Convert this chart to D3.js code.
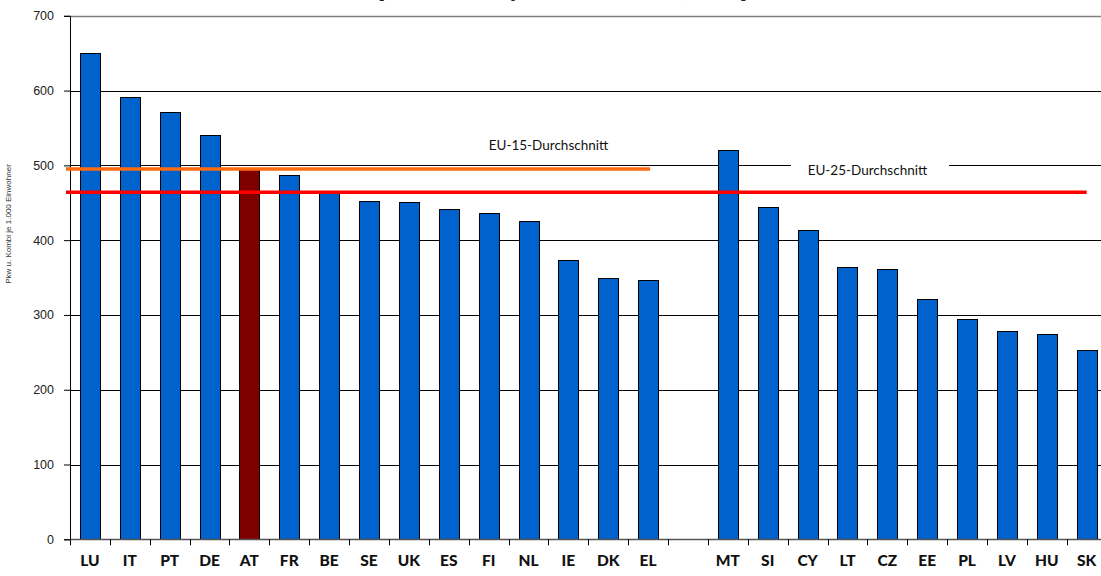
<!DOCTYPE html>
<html>
<head>
<meta charset="utf-8">
<script src="https://cdn.jsdelivr.net/npm/d3@7"></script>
<style>
  body { margin: 0; background: #fff; }
  svg { display: block; }
</style>
</head>
<body>
<script>
// data
var eu15Countries = ["LU","IT","PT","DE","AT","FR","BE","SE","UK","ES","FI","NL","IE","DK","EL"];
var eu15Values    = [650, 592, 572, 540, 495, 487, 464, 453, 451, 441, 436, 425, 374, 350, 347];
var newCountries  = ["MT","SI","CY","LT","CZ","EE","PL","LV","HU","SK"];
var newValues     = [521, 445, 414, 364, 362, 321, 294, 279, 274, 253];
var yTicks = [0, 100, 200, 300, 400, 500, 600, 700];
var eu15Average = 495;
var eu25Average = 464;
var highlight = "AT";

var svgWidth = 1101;
var svgHeight = 576;

var margin = {top: 15.8, left: 70};
var step = 39.87;

// slots: eu15, one empty slot, new members
var slots = eu15Countries.concat(["_gap"]).concat(newCountries);
var bars = eu15Countries.map(function(c, i) { return {name: c, value: eu15Values[i]}; })
  .concat(newCountries.map(function(c, i) { return {name: c, value: newValues[i]}; }));

var svg = d3.select("body")
  .append("svg")
  .attr("width", svgWidth)
  .attr("height", svgHeight);

var x = d3.scaleBand()
  .domain(slots)
  .range([margin.left, margin.left + slots.length * step])
  .paddingInner(0.5)
  .paddingOuter(0.25);

var slotScale = d3.scaleLinear()
  .domain([0, slots.length])
  .range([margin.left, margin.left + slots.length * step]);

var y = d3.scaleLinear()
  .domain([0, 700])
  .range([539.3, margin.top]);

// title, cut off by the top edge in the original (only the bracket feet show)
svg.append("text")
  .attr("x", 378)
  .attr("y", -2)
  .attr("textLength", 369)
  .attr("lengthAdjust", "spacingAndGlyphs")
  .style("font-family", "Lato, 'DejaVu Sans', sans-serif")
  .style("font-weight", "bold")
  .style("font-size", "15px")
  .style("fill", "#222")
  .text("[Pkw u. Kombi je 1.000 Einwohner, 2003]");

// gridlines
svg.append("g")
  .selectAll("line")
  .data(yTicks.filter(function(d) { return d > 0; }))
  .enter().append("line")
  .attr("x1", margin.left)
  .attr("x2", svgWidth)
  .attr("y1", function(d) { return Math.round(y(d)) + 0.5; })
  .attr("y2", function(d) { return Math.round(y(d)) + 0.5; })
  .attr("stroke", function(d) { return d === 700 ? "#808080" : "#000"; })
  .attr("stroke-width", function(d) { return d === 700 ? 1.5 : 1; });

// y axis
var yAxis = d3.axisLeft(y)
  .tickValues(yTicks)
  .tickSize(6)
  .tickPadding(10);

var gY = svg.append("g")
  .attr("transform", "translate(" + margin.left + ",0)")
  .call(yAxis);
gY.select(".domain").attr("stroke", "#000");
gY.selectAll(".tick line").attr("stroke", "#000");
gY.selectAll("text")
  .style("font-family", "'Liberation Sans', Arial, sans-serif")
  .style("font-size", "12.5px")
  .style("fill", "#222");

svg.append("text")
  .attr("transform", "translate(11,224) rotate(-90)")
  .attr("text-anchor", "middle")
  .style("font-family", "'Liberation Sans', Arial, sans-serif")
  .style("font-size", "8px")
  .style("fill", "#333")
  .text("Pkw u. Kombi je 1.000 Einwohner");

// bars
svg.append("g")
  .selectAll("rect")
  .data(bars)
  .enter().append("rect")
  .attr("x", function(d) { return Math.round(x(d.name)) + 0.5; })
  .attr("y", function(d) { return Math.round(y(d.value)) + 0.5; })
  .attr("width", Math.round(x.bandwidth()))
  .attr("height", function(d) { return Math.round(y(0)) - Math.round(y(d.value)); })
  .attr("fill", function(d) { return d.name === highlight ? "#800000" : "#0062CC"; })
  .attr("stroke", "#000")
  .attr("stroke-width", 1);

// x axis line and category ticks
var gX = svg.append("g");
gX.append("line")
  .attr("x1", margin.left)
  .attr("x2", svgWidth)
  .attr("y1", Math.round(y(0)) + 0.5)
  .attr("y2", Math.round(y(0)) + 0.5)
  .attr("stroke", "#555")
  .attr("stroke-width", 1.5);
gX.selectAll("line.tick")
  .data(d3.range(slots.length + 1))
  .enter().append("line")
  .attr("class", "tick")
  .attr("x1", function(d) { return Math.round(slotScale(d)) + 0.5; })
  .attr("x2", function(d) { return Math.round(slotScale(d)) + 0.5; })
  .attr("y1", y(0))
  .attr("y2", y(0) + 6)
  .attr("stroke", "#000");

gX.selectAll("text")
  .data(bars)
  .enter().append("text")
  .attr("x", function(d) { return x(d.name) + x.bandwidth() / 2; })
  .attr("y", 566)
  .attr("text-anchor", "middle")
  .style("font-family", "Lato, 'DejaVu Sans', sans-serif")
  .style("font-weight", "900")
  .style("font-size", "15.5px")
  .style("fill", "#111")
  .text(function(d) { return d.name; });

// average lines
var lastEu15 = eu15Countries[eu15Countries.length - 1];
var lastNew = newCountries[newCountries.length - 1];

svg.append("line")
  .attr("x1", slotScale(0) - 4)
  .attr("x2", x(lastEu15) + x.bandwidth() / 2 + 2)
  .attr("y1", y(eu15Average))
  .attr("y2", y(eu15Average))
  .attr("stroke", "#FF6A10")
  .attr("stroke-width", 3.5);

svg.append("line")
  .attr("x1", slotScale(0) - 4)
  .attr("x2", x(lastNew) + x.bandwidth() / 2)
  .attr("y1", y(eu25Average))
  .attr("y2", y(eu25Average))
  .attr("stroke", "#FF0000")
  .attr("stroke-width", 3.5);

// labels
svg.append("text")
  .attr("x", slotScale(12))
  .attr("y", 150)
  .attr("text-anchor", "middle")
  .style("font-family", "Lato, 'DejaVu Sans', sans-serif")
  .style("font-size", "13.5px")
  .style("fill", "#111")
  .text("EU-15-Durchschnitt");

svg.append("rect")
  .attr("x", 791)
  .attr("y", 160)
  .attr("width", 158)
  .attr("height", 16)
  .attr("fill", "#fff");

svg.append("text")
  .attr("x", slotScale(20))
  .attr("y", 175)
  .attr("text-anchor", "middle")
  .style("font-family", "Lato, 'DejaVu Sans', sans-serif")
  .style("font-size", "13.5px")
  .style("fill", "#111")
  .text("EU-25-Durchschnitt");
</script>
</body>
</html>
